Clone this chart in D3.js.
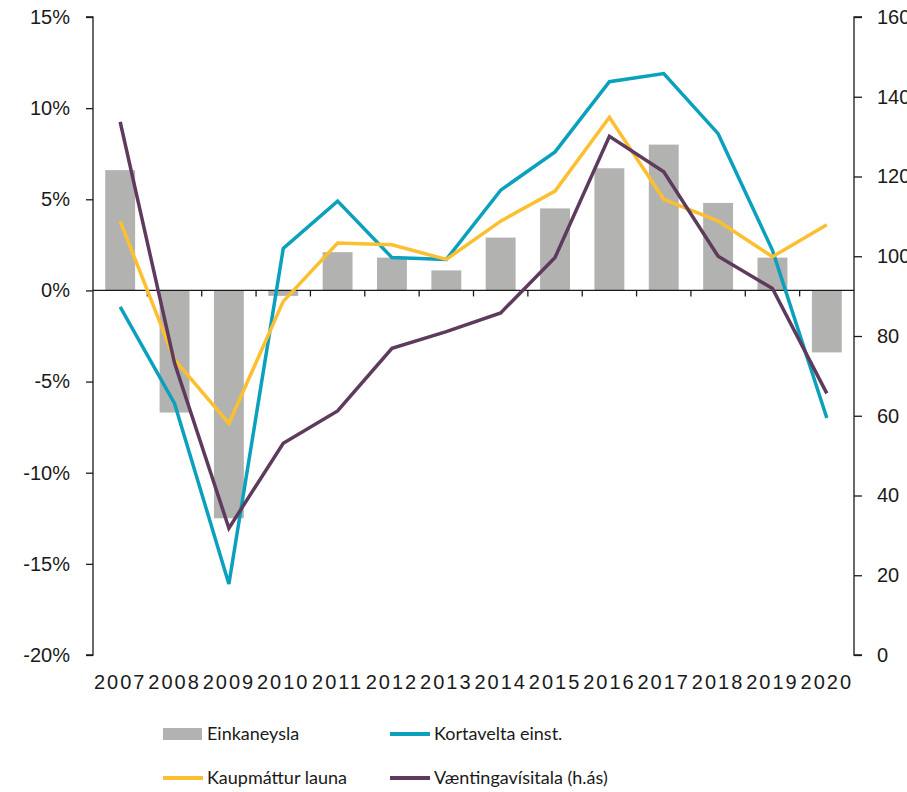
<!DOCTYPE html>
<html>
<head>
<meta charset="utf-8">
<script src="https://cdn.jsdelivr.net/npm/d3@7"></script>
<style>
  body { margin: 0; background: #fff; }
  svg { display: block; font-family: Lato, sans-serif; }
  .axis text { font-size: 20px; fill: #1a1a1a; }
  .axis path, .axis line { stroke: #1a1a1a; stroke-width: 1.3; }
  .xlabels text { letter-spacing: 2px; }
  .legend text { font-size: 18px; fill: #1a1a1a; }
</style>
</head>
<body>
<div id="chart"></div>
<script>
// data
var years = ["2007","2008","2009","2010","2011","2012","2013","2014","2015","2016","2017","2018","2019","2020"];
var einkaneysla = [6.6, -6.7, -12.5, -0.3, 2.1, 1.8, 1.1, 2.9, 4.5, 6.7, 8.0, 4.8, 1.8, -3.4];
var kortavelta = [-0.9, -6.2, -16.1, 2.3, 4.9, 1.8, 1.7, 5.5, 7.6, 11.45, 11.9, 8.6, 2.2, -7.0];
var kaupmattur = [3.8, -3.8, -7.3, -0.6, 2.6, 2.5, 1.7, 3.8, 5.45, 9.5, 5.0, 3.8, 1.85, 3.6];
var vaentinga = [133.7, 73.2, 31.8, 53.1, 61.2, 76.9, 81.1, 85.8, 99.7, 130.1, 121.2, 100.0, 91.9, 65.6];
var leftTicks = [-20, -15, -10, -5, 0, 5, 10, 15];
var rightTicks = [0, 20, 40, 60, 80, 100, 120, 140, 160];

var svgWidth = 907, svgHeight = 792;
var margin = { left: 93, right: 53, top: 17, bottom: 137 };
var width = svgWidth - margin.left - margin.right,
    height = svgHeight - margin.top - margin.bottom;

var svg = d3.select("#chart")
  .append("svg")
    .attr("width", svgWidth)
    .attr("height", svgHeight);

var chartGroup = svg.append("g")
  .attr("transform", `translate(${margin.left}, ${margin.top})`);

// scales
var x = d3.scaleBand()
  .domain(years)
  .range([0, width])
  .paddingInner(0.45)
  .paddingOuter(0.225);

var y = d3.scaleLinear().domain([-20, 15]).range([height, 0]);
var y2 = d3.scaleLinear().domain([0, 160]).range([height, 0]);

var cx = function(i) { return x(years[i]) + x.bandwidth() / 2; };

// bars
chartGroup.selectAll("rect.bar")
  .data(einkaneysla)
  .enter()
  .append("rect")
    .attr("class", "bar")
    .attr("x", (d, i) => x(years[i]))
    .attr("width", x.bandwidth())
    .attr("y", d => y(Math.max(0, d)))
    .attr("height", d => Math.abs(y(d) - y(0)))
    .attr("fill", "#b2b3b0");

// zero line with ticks between categories
chartGroup.append("line")
  .attr("x1", 0).attr("x2", width)
  .attr("y1", y(0)).attr("y2", y(0))
  .attr("stroke", "#1a1a1a").attr("stroke-width", 1.3);

chartGroup.selectAll("line.xtick")
  .data(years.slice(1))
  .enter()
  .append("line")
    .attr("class", "xtick")
    .attr("x1", d => x(d) - x.step() * x.paddingInner() / 2)
    .attr("x2", d => x(d) - x.step() * x.paddingInner() / 2)
    .attr("y1", y(0)).attr("y2", y(0) + 6)
    .attr("stroke", "#1a1a1a").attr("stroke-width", 1.3);

// lines
function addLine(values, scale, color) {
  var line = d3.line()
    .x((d, i) => cx(i))
    .y(d => scale(d));
  chartGroup.append("path")
    .datum(values)
    .attr("d", line)
    .attr("fill", "none")
    .attr("stroke", color)
    .attr("stroke-width", 3.5)
    .attr("stroke-linejoin", "miter");
}
addLine(kortavelta, y, "#0aa0be");
addLine(kaupmattur, y, "#fcbf2f");
addLine(vaentinga, y2, "#5e3a5c");

// axes
chartGroup.append("g")
  .attr("class", "axis")
  .call(d3.axisLeft(y).tickValues(leftTicks).tickSize(7).tickPadding(16)
    .tickFormat(d => d + "%"))
  .call(g => g.select(".domain").attr("d", `M-7,${height}H0V0H-7`));

chartGroup.append("g")
  .attr("class", "axis")
  .attr("transform", `translate(${width}, 0)`)
  .call(d3.axisRight(y2).tickValues(rightTicks).tickSize(8).tickPadding(15))
  .call(g => g.select(".domain").attr("d", `M8,${height}H0V0H8`));

// x labels
chartGroup.append("g")
  .attr("class", "axis xlabels")
  .attr("transform", `translate(0, ${height})`)
  .call(d3.axisBottom(x).tickSize(0).tickPadding(20))
  .call(g => g.select(".domain").remove());

// legend
var legend = svg.append("g").attr("class", "legend");
var items = [
  { name: "Einkaneysla", type: "bar", color: "#b2b3b0", x: 163, y: 734 },
  { name: "Kortavelta einst.", type: "line", color: "#0aa0be", x: 390, y: 734 },
  { name: "Kaupmáttur launa", type: "line", color: "#fcbf2f", x: 163, y: 778 },
  { name: "Væntingavísitala (h.ás)", type: "line", color: "#5e3a5c", x: 390, y: 778 }
];
items.forEach(function(it) {
  if (it.type === "bar") {
    legend.append("rect")
      .attr("x", it.x).attr("y", it.y - 6)
      .attr("width", 39).attr("height", 12)
      .attr("fill", it.color);
  } else {
    legend.append("line")
      .attr("x1", it.x).attr("x2", it.x + 40)
      .attr("y1", it.y).attr("y2", it.y)
      .attr("stroke", it.color).attr("stroke-width", 4);
  }
  legend.append("text")
    .attr("x", it.x + 44)
    .attr("y", it.y)
    .attr("dy", "0.35em")
    .text(it.name);
});
</script>
</body>
</html>
